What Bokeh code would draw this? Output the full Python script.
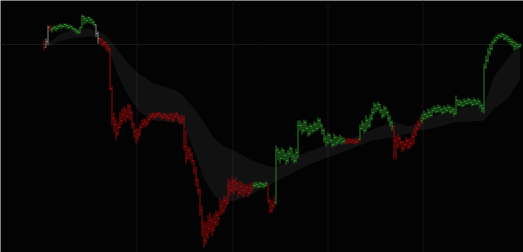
from bokeh.plotting import figure
from bokeh.models import Range1d, Span, ColumnDataSource
from bokeh.embed import file_html
from bokeh.resources import INLINE

# --- price bars (one per session step) ---
close = [205, 211, 225, 223, 224, 225, 224, 226, 227, 226, 228, 227, 225, 226, 224, 223, 221, 220, 225, 236,
         234, 232, 235, 233, 230, 228, 219, 214, 213, 209, 210, 206, 204, 164, 134, 128, 119, 125, 132, 138,
         142, 136, 146, 140, 128, 121, 115, 118, 125, 129, 131, 129, 133, 136, 138, 136, 138, 139, 137, 135,
         138, 136, 134, 138, 133, 136, 139, 134, 131, 133, 106, 94, 102, 98, 92, 82, 72, 62, 42, 26,
         12, 18, 24, 32, 22, 30, 37, 34, 47, 42, 52, 49, 66, 62, 71, 64, 69, 60, 66, 62,
         62, 65, 60, 64, 67, 67, 68, 66, 69, 68, 67, 69, 52, 42, 47, 50, 102, 100, 94, 102,
         97, 92, 99, 104, 96, 92, 100, 127, 127, 122, 130, 124, 119, 126, 122, 128, 124, 132, 127, 122,
         114, 110, 117, 112, 108, 115, 110, 112, 114, 111, 112, 110, 113, 111, 112, 110, 111, 113, 124, 128,
         122, 132, 127, 134, 140, 147, 144, 148, 142, 137, 144, 140, 134, 130, 126, 112, 107, 114, 110, 104,
         108, 112, 106, 109, 116, 120, 124, 128, 132, 134, 138, 136, 140, 137, 142, 144, 141, 145, 143, 140,
         144, 142, 145, 141, 143, 139, 152, 148, 150, 147, 151, 149, 153, 150, 148, 152, 149, 151, 147, 144,
         185, 192, 200, 204, 210, 212, 215, 217, 216, 218, 214, 216, 213, 211, 210, 206, 208, 206, 207]
high = [212, 214, 227, 228, 226, 227, 227, 228, 229, 228, 229, 229, 228, 228, 227, 225, 224, 223, 226, 238,
        237, 235, 236, 235, 234, 232, 228, 221, 215, 214, 212, 211, 208, 205, 167, 140, 134, 130, 140, 144,
        146, 144, 149, 148, 142, 130, 124, 124, 128, 133, 134, 134, 136, 139, 140, 140, 140, 141, 140, 139,
        140, 139, 138, 140, 139, 139, 141, 139, 137, 138, 137, 122, 106, 105, 100, 92, 86, 74, 64, 47,
        32, 30, 37, 40, 35, 38, 42, 41, 54, 52, 57, 56, 74, 72, 76, 73, 75, 70, 72, 70,
        68, 69, 67, 69, 70, 70, 71, 70, 71, 70, 70, 71, 69, 54, 52, 56, 107, 105, 102, 105,
        103, 100, 103, 106, 105, 99, 104, 132, 132, 130, 133, 132, 127, 129, 128, 131, 130, 135, 134, 129,
        124, 117, 120, 119, 114, 119, 117, 116, 118, 116, 115, 114, 115, 114, 114, 113, 114, 115, 128, 132,
        130, 137, 134, 138, 144, 150, 149, 151, 149, 144, 147, 146, 142, 137, 132, 127, 116, 118, 116, 112,
        112, 115, 114, 114, 120, 124, 128, 132, 136, 139, 142, 140, 144, 143, 145, 147, 146, 148, 147, 145,
        147, 146, 148, 147, 146, 145, 157, 153, 153, 152, 154, 153, 155, 154, 153, 155, 153, 154, 152, 149,
        189, 197, 204, 209, 212, 215, 217, 219, 219, 220, 219, 218, 217, 215, 214, 212, 211, 209, 209]
low = [202, 206, 208, 221, 220, 222, 221, 223, 224, 224, 225, 224, 223, 224, 222, 221, 219, 218, 219, 225,
       228, 229, 230, 229, 228, 226, 216, 209, 208, 206, 205, 202, 200, 162, 127, 120, 112, 117, 124, 128,
       132, 130, 134, 132, 124, 115, 109, 112, 116, 124, 126, 125, 128, 131, 134, 133, 134, 135, 134, 133,
       134, 133, 131, 133, 130, 131, 134, 131, 128, 129, 102, 89, 94, 92, 88, 78, 66, 58, 37, 16,
       5, 8, 14, 20, 16, 22, 26, 27, 37, 38, 40, 44, 48, 56, 60, 58, 62, 55, 58, 56,
       55, 59, 55, 58, 60, 64, 65, 64, 65, 65, 64, 66, 49, 39, 40, 44, 48, 92, 89, 93,
       92, 88, 90, 95, 92, 89, 90, 94, 122, 118, 120, 121, 116, 117, 119, 120, 121, 122, 124, 118,
       110, 106, 108, 109, 105, 106, 107, 108, 109, 108, 109, 108, 109, 109, 109, 108, 108, 109, 112, 122,
       119, 121, 124, 125, 132, 138, 140, 142, 139, 134, 135, 137, 131, 126, 122, 94, 93, 104, 106, 100,
       102, 105, 103, 104, 106, 108, 116, 122, 125, 129, 132, 133, 134, 135, 136, 140, 139, 140, 140, 138,
       139, 140, 141, 139, 139, 136, 138, 146, 146, 145, 146, 147, 148, 148, 146, 147, 147, 147, 144, 140,
       139, 184, 190, 197, 202, 208, 210, 213, 214, 215, 212, 212, 210, 208, 206, 202, 203, 204, 205]
first_open = 209

# trend state of each bar, as runs of (state, bar count)
trend_runs = [("down", 1), ("flat", 2), ("down", 1), ("up", 22), ("flat", 2), ("down", 77),
              ("up", 7), ("down", 4), ("up", 35), ("down", 7), ("up", 17), ("down", 14), ("up", 50)]

# --- envelope band (upper / lower edge at selected bars) ---
band_idx = [0, 3, 8, 13, 18, 23, 27, 31, 34, 37, 42, 48, 55, 66, 70, 75, 80, 85, 90, 96,
            104, 111, 116, 122, 127, 139, 153, 164, 175, 182, 188, 194, 205, 220, 225, 232, 237, 238]
band_upper = [206, 211, 218, 222, 224, 224, 221, 217, 210, 202, 189, 178, 169, 162, 156, 144, 130, 114, 106, 101,
              92, 87, 85, 92, 97, 106, 113, 123, 131, 126, 130, 136, 144, 147, 176, 194, 206, 208]
band_lower = [205, 207, 211, 214, 215, 216, 214, 207, 194, 177, 157, 140, 132, 130, 127, 102, 74, 57, 50, 52,
              58, 66, 71, 77, 83, 93, 103, 112, 115, 119, 122, 124, 130, 132, 144, 154, 170, 172]

session_breaks = [46.5, 94.5, 142, 189.5]
ref_level = 208

palette = {"up": "#2a8326", "down": "#930b0b", "flat": "#858585"}

n = len(close)
x = list(range(n))
opens = [first_open] + close[:-1]
colors = []
for state, count in trend_runs:
    colors += [palette[state]] * count

src = ColumnDataSource(dict(
    x=x, xl=[v - 0.5 for v in x], xr=[v + 0.5 for v in x],
    open=opens, high=high, low=low, close=close, color=colors,
))

p = figure(width=523, height=252, output_backend="svg", toolbar_location=None,
           x_range=Range1d(-21.75, 239.75), y_range=Range1d(0, 252),
           min_border=0, min_border_left=0, min_border_right=0,
           min_border_top=0, min_border_bottom=0)
p.background_fill_color = "#030303"
p.border_fill_color = "#030303"
p.outline_line_color = None
p.xaxis.visible = False
p.yaxis.visible = False
p.xgrid.visible = False
p.ygrid.visible = False

for loc in session_breaks:
    p.add_layout(Span(location=loc, dimension="height", line_color="#1f0b1a",
                      line_width=1, level="underlay"))
p.add_layout(Span(location=ref_level, dimension="width", line_color="#141b17",
                  line_width=1, level="underlay"))

p.varea(x=band_idx, y1=band_lower, y2=band_upper, fill_color="#ffffff", fill_alpha=0.06)

p.segment(x0="x", y0="high", x1="x", y1="low", line_color="color", line_width=1, source=src)
p.segment(x0="xl", y0="open", x1="x", y1="open", line_color="color", line_width=1, source=src)
p.segment(x0="x", y0="close", x1="xr", y1="close", line_color="color", line_width=1, source=src)

open("out.html", "w").write(file_html(p, INLINE))
